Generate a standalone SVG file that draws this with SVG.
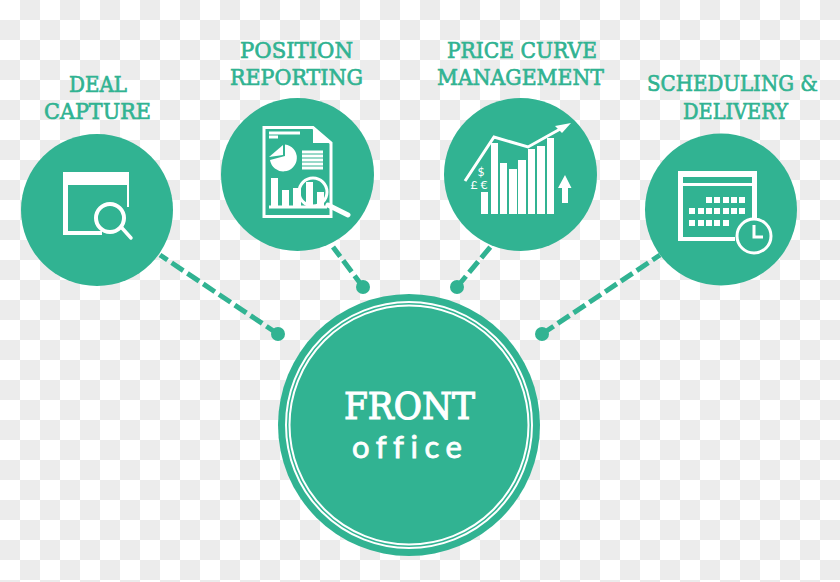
<svg xmlns="http://www.w3.org/2000/svg" width="840" height="582" viewBox="0 0 840 582">
<style>
.n{fill:#31b392}
.i{fill:#fff}
.s{fill:none;stroke:#fff;stroke-width:3}
.c{fill:none;stroke:#31b392;stroke-width:5;stroke-dasharray:14 5}
.d{fill:#31b392}
.l{font-family:"DejaVu Serif","Liberation Serif",serif;font-size:22.5px;fill:#31b392;stroke:#31b392;stroke-width:.7}
.m{font-family:"Lato","Liberation Sans",sans-serif;font-size:12px;fill:#fff;text-anchor:middle}
</style>
<defs><pattern id="chk" width="40" height="40" patternUnits="userSpaceOnUse"><rect width="40" height="40" fill="#fff"/><rect x="20" width="20" height="20" fill="#ececec"/><rect y="20" width="20" height="20" fill="#ececec"/></pattern></defs>
<rect width="840" height="582" fill="url(#chk)"/>
<g id="connectors">
<path class="c" d="M278 334L160 255"/><circle class="d" cx="278" cy="334" r="7"/>
<path class="c" d="M363 287L333 247"/><circle class="d" cx="363" cy="287" r="7"/>
<path class="c" d="M457 287L492 245"/><circle class="d" cx="457" cy="287" r="7"/>
<path class="c" d="M542 334L660 255"/><circle class="d" cx="542" cy="334" r="7"/>
</g>
<g id="deal-capture">
<text class="l" x="69" y="92" textLength="58" lengthAdjust="spacingAndGlyphs">DEAL</text>
<text class="l" x="44" y="119" textLength="107" lengthAdjust="spacingAndGlyphs">CAPTURE</text>
<circle class="n" cx="97" cy="210" r="76"/>
<rect class="i" x="63" y="172" width="66" height="13"/>
<rect class="i" x="63" y="172" width="5" height="63"/>
<rect class="i" x="63" y="231" width="39" height="4"/>
<rect class="i" x="127" y="172" width="2" height="35"/>
<circle cx="110" cy="218" r="14" fill="#31b392" stroke="#fff" stroke-width="4"/>
<path d="M122 228L131 238" fill="none" stroke="#fff" stroke-width="3.5" stroke-linecap="round"/>
</g>
<g id="position-reporting">
<text class="l" x="240" y="58" textLength="113" lengthAdjust="spacingAndGlyphs">POSITION</text>
<text class="l" x="230" y="85" textLength="133" lengthAdjust="spacingAndGlyphs">REPORTING</text>
<circle class="n" cx="297.500" cy="174.500" r="76.500"/>
<path class="s" stroke-width="2" d="M264 127.500H313L331 143V216.500H264Z"/>
<path class="i" d="M313 127L331 143H313Z"/>
<path class="s" stroke-width="1.500" d="M269 133H300M269 137H278M302 152H323M302 156H323M302 160H323M302 164H323M302 168H323"/>
<path class="i" d="M285 144.500A13.500 13.500 0 1 1 270 160L285 156Z"/>
<path class="i" d="M269 157L283 145V155Z"/>
<path class="s" stroke-width="2" d="M269 207H327"/>
<rect class="i" x="271" y="178" width="7" height="28"/>
<rect class="i" x="282" y="190" width="7" height="16"/>
<rect class="i" x="293" y="188" width="8" height="18"/>
<rect class="i" x="306" y="182" width="7" height="24"/>
<rect class="i" x="317" y="192" width="7" height="14"/>
<circle class="s" cx="313" cy="192" r="14"/>
<path d="M328 205L348 215" fill="none" stroke="#fff" stroke-width="5" stroke-linecap="round"/>
</g>
<g id="price-curve">
<text class="l" x="447" y="58" textLength="150" lengthAdjust="spacingAndGlyphs">PRICE CURVE</text>
<text class="l" x="437" y="85" textLength="167" lengthAdjust="spacingAndGlyphs">MANAGEMENT</text>
<circle class="n" cx="520.500" cy="174.500" r="76.500"/>
<rect class="i" x="481" y="192" width="7" height="22"/>
<rect class="i" x="491" y="143" width="7" height="71"/>
<rect class="i" x="500" y="163" width="7" height="51"/>
<rect class="i" x="509" y="169" width="8" height="45"/>
<rect class="i" x="518" y="160" width="8" height="54"/>
<rect class="i" x="528" y="149" width="7" height="65"/>
<rect class="i" x="537" y="146" width="8" height="68"/>
<rect class="i" x="547" y="138" width="7" height="76"/>
<path class="s" stroke-width="2" d="M465 181L494 137L528 147L562 128"/>
<path class="i" d="M571 123L555 126L562 133Z"/>
<path class="i" d="M565 175L571.500 188H568V203H562V188H558Z"/>
<text class="m" x="481" y="176">$</text>
<text class="m" x="474" y="189">£</text>
<text class="m" x="484" y="189">€</text>
</g>
<g id="scheduling">
<text class="l" x="647" y="91" textLength="171" lengthAdjust="spacingAndGlyphs">SCHEDULING &amp;</text>
<text class="l" x="683" y="119" textLength="105" lengthAdjust="spacingAndGlyphs">DELIVERY</text>
<circle class="n" cx="721" cy="209.500" r="76"/>
<path class="i" d="M678 171H757V218H752V186H683V237H735V241H678Z"/>
<rect class="n" x="683" y="177" width="69" height="6"/>
<g class="i">
<rect x="706" y="197" width="6" height="6"/><rect x="714" y="197" width="6" height="6"/><rect x="723" y="197" width="6" height="6"/><rect x="731" y="197" width="6" height="6"/><rect x="739" y="197" width="6" height="6"/>
<rect x="689" y="208" width="6" height="6"/><rect x="698" y="208" width="6" height="6"/><rect x="706" y="208" width="6" height="6"/><rect x="714" y="208" width="6" height="6"/><rect x="723" y="208" width="6" height="6"/><rect x="731" y="208" width="6" height="6"/><rect x="739" y="208" width="6" height="6"/>
<rect x="689" y="220" width="6" height="6"/><rect x="698" y="220" width="6" height="6"/><rect x="706" y="220" width="6" height="6"/><rect x="714" y="220" width="6" height="6"/><rect x="723" y="220" width="6" height="6"/>
</g>
<circle cx="754" cy="236" r="17" fill="#31b392" stroke="#fff" stroke-width="3"/>
<path class="s" stroke-width="2.500" d="M754 225V237H763"/>
</g>
<g id="front-office">
<circle class="n" cx="409" cy="425" r="131"/>
<circle cx="409" cy="425" r="123" fill="none" stroke="#fff" stroke-width="2"/>
<circle cx="409" cy="425" r="119.500" fill="none" stroke="#fff" stroke-width="2"/>
<text x="344" y="419" font-family="'DejaVu Serif','Liberation Serif',serif" font-size="37" fill="#fff" stroke="#fff" stroke-width="1.200" textLength="131" lengthAdjust="spacingAndGlyphs">FRONT</text>
<text x="352" y="458" font-family="Lato,'Liberation Sans',sans-serif" font-size="31" fill="#fff" stroke="#fff" stroke-width=".8" style="font-variant-ligatures:none" letter-spacing="6.500">office</text>
</g>
</svg>
